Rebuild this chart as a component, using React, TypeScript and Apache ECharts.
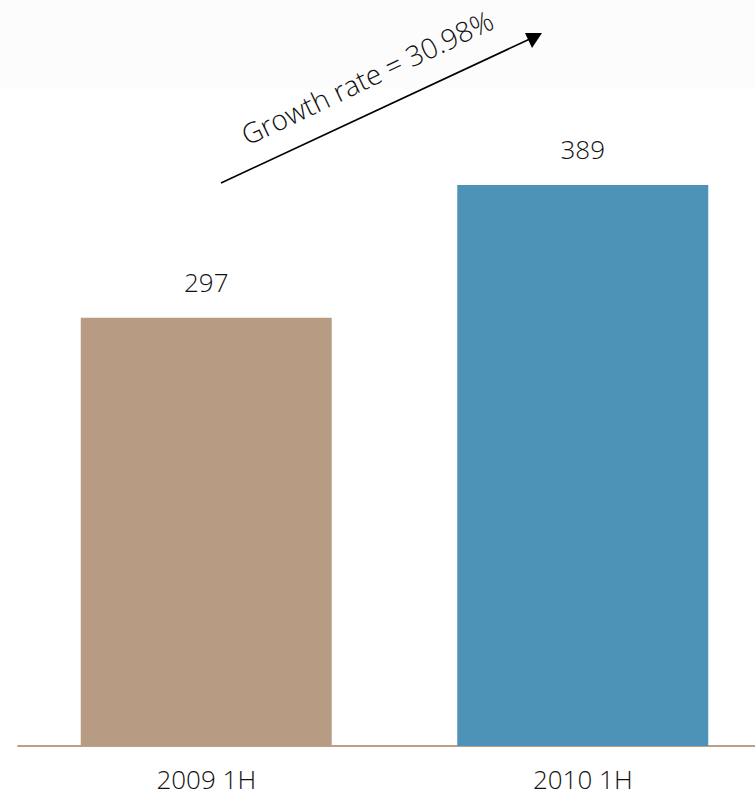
import React, { useEffect, useRef } from "react";
import * as echarts from "echarts";

const categories = ["2009 1H", "2010 1H"];
const values = [297, 389];
const barColors = ["#b89b83", "#4d92b7"];
const growthLabel = "Growth rate = 30.98%";

export default function App() {
  const ref = useRef<HTMLDivElement>(null);
  useEffect(() => {
    document.body.style.margin = "0";
    if (!ref.current) return;
    const chart = echarts.init(ref.current, null, { renderer: "svg" });
    const font = "'Open Sans', 'Segoe UI', sans-serif";
    chart.setOption({
      animation: false,
      backgroundColor: "#ffffff",
      grid: { left: 18, right: -16, top: 25, bottom: 55, outerBoundsMode: "none", containLabel: false },
      xAxis: {
        type: "category",
        data: categories,
        axisLine: { show: true, lineStyle: { color: "#bd9f87", width: 2 } },
        axisTick: { show: false },
        axisLabel: {
          color: "#111111",
          fontSize: 26,
          fontFamily: font,
          fontWeight: 300,
          margin: 20,
        },
      },
      yAxis: { type: "value", min: 0, max: 500, show: false, splitLine: { show: false } },
      series: [
        {
          type: "bar",
          barWidth: 251,
          data: values.map((v, i) => ({ value: v, itemStyle: { color: barColors[i] } })),
          label: {
            show: true,
            position: "top",
            distance: 23,
            color: "#111111",
            fontSize: 26,
            fontFamily: font,
            fontWeight: 300,
          },
          z: 2,
        },
      ],
      graphic: [
        {
          type: "rect",
          z: -10,
          silent: true,
          shape: { x: 0, y: 0, width: 755, height: 89 },
          style: { fill: "#fcfcfc" },
        },
        {
          type: "line",
          shape: { x1: 221, y1: 183, x2: 532, y2: 38 },
          style: { stroke: "#000000", lineWidth: 1.6 },
        },
        {
          type: "polygon",
          shape: {
            points: [
              [542, 33],
              [525, 33],
              [532, 48],
            ],
          },
          style: { fill: "#000000" },
        },
        {
          type: "text",
          x: 367,
          y: 77,
          rotation: 0.445,
          style: {
            text: growthLabel,
            fill: "#111111",
            fontSize: 28,
            fontFamily: font,
            fontWeight: 300,
            align: "center",
            verticalAlign: "middle",
          },
        },
      ],
    });
    return () => chart.dispose();
  }, []);
  return <div ref={ref} style={{ width: 755, height: 801 }} />;
}
